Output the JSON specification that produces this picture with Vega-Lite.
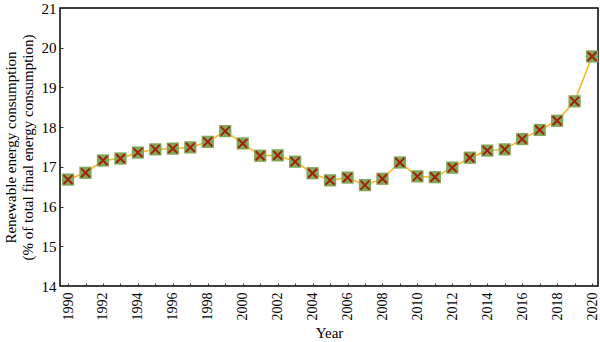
{
  "$schema": "https://vega.github.io/schema/vega-lite/v6.json",
  "width": 538,
  "height": 278,
  "autosize": {"type": "none"},
  "padding": {"left": 60, "top": 8, "right": 2, "bottom": 56},
  "background": "white",
  "config": {
    "view": {"stroke": "black", "strokeWidth": 1.5},
    "font": "Liberation Serif",
    "axis": {"grid": false, "domain": false, "tickColor": "#333", "labelColor": "black", "titleColor": "black", "labelFont": "Liberation Serif", "titleFont": "Liberation Serif", "titleFontWeight": "normal"}
  },
  "data": {"values": [
    {"year": 1990, "value": 16.68},
    {"year": 1991, "value": 16.85},
    {"year": 1992, "value": 17.16},
    {"year": 1993, "value": 17.21},
    {"year": 1994, "value": 17.36},
    {"year": 1995, "value": 17.44},
    {"year": 1996, "value": 17.46},
    {"year": 1997, "value": 17.49},
    {"year": 1998, "value": 17.63},
    {"year": 1999, "value": 17.9},
    {"year": 2000, "value": 17.59},
    {"year": 2001, "value": 17.28},
    {"year": 2002, "value": 17.29},
    {"year": 2003, "value": 17.13},
    {"year": 2004, "value": 16.84},
    {"year": 2005, "value": 16.66},
    {"year": 2006, "value": 16.73},
    {"year": 2007, "value": 16.54},
    {"year": 2008, "value": 16.7},
    {"year": 2009, "value": 17.11},
    {"year": 2010, "value": 16.76},
    {"year": 2011, "value": 16.74},
    {"year": 2012, "value": 16.98},
    {"year": 2013, "value": 17.23},
    {"year": 2014, "value": 17.41},
    {"year": 2015, "value": 17.44},
    {"year": 2016, "value": 17.7},
    {"year": 2017, "value": 17.93},
    {"year": 2018, "value": 18.16},
    {"year": 2019, "value": 18.65},
    {"year": 2020, "value": 19.78}
  ]},
  "encoding": {
    "x": {
      "field": "year", "type": "quantitative",
      "scale": {"domain": [1989.54, 2020.34], "nice": false, "zero": false},
      "axis": {
        "title": "Year", "titleFontSize": 15, "titlePadding": 5,
        "values": [1990,1991,1992,1993,1994,1995,1996,1997,1998,1999,2000,2001,2002,2003,2004,2005,2006,2007,2008,2009,2010,2011,2012,2013,2014,2015,2016,2017,2018,2019,2020],
        "labelExpr": "datum.value % 2 == 0 ? datum.value : ''",
        "labelAngle": 270, "labelAlign": "right", "labelBaseline": "middle",
        "labelFontSize": 14, "labelPadding": 9, "tickSize": -3, "labelFlush": false, "labelOverlap": false
      }
    },
    "y": {
      "field": "value", "type": "quantitative",
      "scale": {"domain": [14, 21], "nice": false, "zero": false},
      "axis": {
        "title": ["Renewable energy consumption", "(% of total final energy consumption)"],
        "titleFontSize": 15, "titlePadding": 6, "titleLineHeight": 17,
        "values": [14,15,16,17,18,19,20,21],
        "labelFontSize": 15, "labelPadding": 7, "tickSize": -3, "labelFlush": false
      }
    }
  },
  "layer": [
    {"mark": {"type": "line", "color": "#f4b81e", "strokeWidth": 1.5}},
    {"mark": {"type": "point", "shape": "square", "filled": true, "color": "#80a85a", "size": 150, "opacity": 1}},
    {"mark": {"type": "point", "shape": "M-1,-1L1,1M1,-1L-1,1", "filled": false, "color": "#a32008", "size": 80, "strokeWidth": 2, "opacity": 1}}
  ]
}
